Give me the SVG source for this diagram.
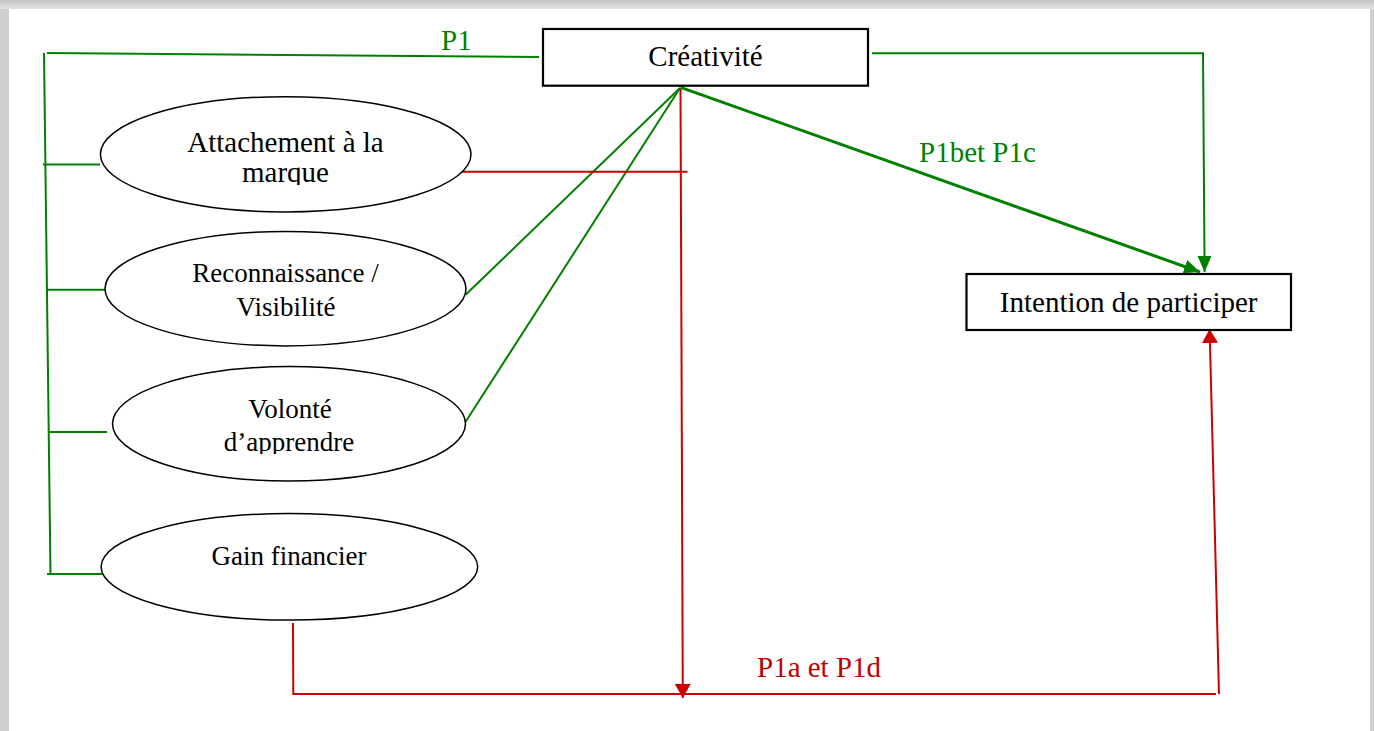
<svg xmlns="http://www.w3.org/2000/svg" width="1374" height="731" viewBox="0 0 1374 731">
<style>
.node{fill:#fff;stroke:#000;stroke-width:1.5}
.box{fill:#fff;stroke:#000;stroke-width:2.2}
.t{font-family:"Liberation Serif","Times New Roman",serif;fill:#000;text-anchor:middle}
.g{fill:none;stroke:#008000;stroke-width:2}
.r{fill:none;stroke:#cc0000;stroke-width:2}
.gl{font-family:"Liberation Serif","Times New Roman",serif;fill:#008000;font-size:29px}
.rl{font-family:"Liberation Serif","Times New Roman",serif;fill:#c00000;font-size:29px}
</style>
<defs>
<marker id="ag" markerUnits="userSpaceOnUse" markerWidth="18" markerHeight="16" refX="16" refY="7" orient="auto"><path d="M0,0 L16,7 L0,14 z" fill="#008000"/></marker>
<marker id="ar" markerUnits="userSpaceOnUse" markerWidth="16" markerHeight="18" refX="14" refY="8" orient="auto"><path d="M0,0 L14,8 L0,16 z" fill="#cc0000"/></marker>
<linearGradient id="sh" x1="0" y1="0" x2="0" y2="1"><stop offset="0" stop-color="#c4c4c4"/><stop offset="1" stop-color="#e2e2e2"/></linearGradient>
<clipPath id="c1"><rect x="100" y="96" width="372" height="89"/></clipPath>
<clipPath id="c2"><rect x="110" y="366" width="360" height="88"/></clipPath>
</defs>
<rect x="0" y="0" width="1374" height="731" fill="#cfcfcf"/>
<rect x="0" y="0" width="1374" height="9" fill="url(#sh)"/>
<rect x="9" y="9" width="1361" height="722" fill="#fff"/>

<g id="connectors">
<polyline class="g" points="539,57 47,53"/>
<line class="g" x1="44" y1="53" x2="50.5" y2="574"/>
<line class="g" x1="43" y1="164.5" x2="100" y2="164.5"/>
<line class="g" x1="47" y1="289.7" x2="105" y2="289.7"/>
<line class="g" x1="49" y1="432" x2="107" y2="432"/>
<line class="g" x1="47" y1="574" x2="103.5" y2="574"/>
<line class="g" x1="680" y1="88" x2="465.6" y2="294.8"/>
<line class="g" x1="680" y1="88" x2="465.6" y2="421.8"/>
<line class="r" x1="462" y1="171.7" x2="687.5" y2="171.7"/>
<line class="r" x1="680.5" y1="88" x2="682.8" y2="698" marker-end="url(#ar)"/>
<polyline class="r" points="293,623 293.3,694 1216,694"/>
<line class="r" x1="1219" y1="694" x2="1209.6" y2="329" marker-end="url(#ar)"/>
<polyline class="g" points="872,53.3 1203,53.3 1204.6,272" marker-end="url(#ag)"/>
<line x1="680.5" y1="87.3" x2="1200" y2="272" stroke="#008000" stroke-width="3" marker-end="url(#ag)"/>
<text class="gl" x="441" y="49.5" font-size="28">P1</text>
<text class="gl" x="919" y="162">P1bet P1c</text>
<text class="rl" x="757" y="677">P1a et P1d</text>
</g>

<g id="creativite">
<rect class="box" x="543" y="29" width="325" height="56.7"/>
<text class="t" x="705.5" y="66" font-size="29">Créativité</text>
</g>
<g id="intention">
<rect class="box" x="966.5" y="274" width="324.5" height="56"/>
<text class="t" x="1128.7" y="312" font-size="29">Intention de participer</text>
</g>
<g id="attachement">
<ellipse class="node" cx="285.7" cy="154.3" rx="185.3" ry="57.6"/>
<text class="t" x="285.5" y="152" font-size="29">Attachement à la</text>
<text class="t" x="285.5" y="182" font-size="29" clip-path="url(#c1)">marque</text>
</g>
<g id="reconnaissance">
<ellipse class="node" cx="285.5" cy="288.7" rx="180.5" ry="57.2"/>
<text class="t" x="285.5" y="282.3" font-size="27">Reconnaissance /</text>
<text class="t" x="286" y="316" font-size="27">Visibilité</text>
</g>
<g id="volonte">
<ellipse class="node" cx="289" cy="423.8" rx="176.5" ry="57.2"/>
<text class="t" x="290" y="418.4" font-size="27">Volonté</text>
<text class="t" x="289" y="451.3" font-size="27" clip-path="url(#c2)">d’apprendre</text>
</g>
<g id="gain">
<ellipse class="node" cx="289.4" cy="566.8" rx="188.3" ry="53.2"/>
<text class="t" x="289" y="564.7" font-size="27">Gain financier</text>
</g>
</svg>
